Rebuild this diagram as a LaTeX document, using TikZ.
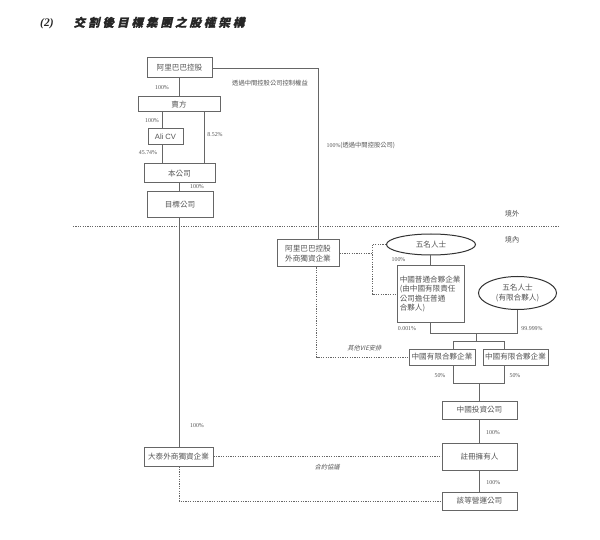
\documentclass[tikz,border=0pt]{standalone}
\usepackage{fontspec}
\setmainfont{Liberation Serif}
\newfontfamily\cjk{Noto Sans CJK TC}
\newfontfamily\cjktitle[FakeSlant=0.22,FakeBold=1.2,LetterSpace=26]{Noto Sans CJK TC}
\usetikzlibrary{shapes.geometric}
\definecolor{txt}{HTML}{555555}
\definecolor{ln}{HTML}{666666}
\tikzset{
  bx/.style={draw=ln,line width=1pt,inner sep=0pt,text=txt,font=\cjk\fontsize{7.6}{9.4}\selectfont,align=center},
  el/.style={ellipse,draw=black!80,line width=1pt,inner sep=0pt,text=txt,font=\cjk\fontsize{7.6}{9.4}\selectfont,align=center},
  cn/.style={draw=ln,line width=0.9pt},
  dt/.style={draw=ln,line width=0.9pt,dash pattern=on 1.2pt off 1.2pt},
  pct/.style={text=txt,font=\fontsize{5.9}{7}\selectfont,inner sep=0pt},
  lbl/.style={text=txt,font=\cjk\fontsize{6.3}{7}\selectfont,inner sep=0pt},
  ilbl/.style={text=txt,font=\cjk\fontsize{6.2}{7}\selectfont,inner sep=0pt,xslant=0.25}
}
\begin{document}
\begin{tikzpicture}[x=1pt,y=-1pt]
\useasboundingbox (0,0) rectangle (600,540);
\fill[white] (0,0) rectangle (600,540);
% title
\node[anchor=west,inner sep=0pt,text=black!85] (title) at (40,23)
  {\fontsize{11.5}{13}\selectfont\bfseries\itshape (2)\hspace{20pt}{\cjktitle\fontsize{11.5}{13}\selectfont 交割後目標集團之股權架構}};
% boxes
\node[bx,minimum width=65,minimum height=20] (alih) at (179.5,68) {阿里巴巴控股};
\node[bx,minimum width=82,minimum height=15] (seller) at (179,104.5) {賣方};
\node[bx,minimum width=35,minimum height=16,font=\fontsize{7.6}{9}\selectfont] (alicv) at (165.5,137) {\fontspec{Liberation Sans}Ali CV};
\node[bx,minimum width=71,minimum height=19] (company) at (179.5,173.5) {本公司};
\node[bx,minimum width=66,minimum height=26] (target) at (180,205) {目標公司};
\node[bx,minimum width=62,minimum height=27] (wfoe1) at (308,253.5) {阿里巴巴控股\\外商獨資企業};
\node[el,minimum width=89,minimum height=21] (five1) at (431,244.5) {五名人士};
\node[bx,minimum width=67,minimum height=56,align=left,text width=61.5] (gp) at (430.5,294) {中國普通合夥企業\\(由中國有限責任\\公司擔任普通\\合夥人)};
\node[el,minimum width=78,minimum height=33] (five2) at (517.5,293) {五名人士\\(有限合夥人)};
\node[bx,minimum width=66,minimum height=16] (lp1) at (442,357) {中國有限合夥企業};
\node[bx,minimum width=65,minimum height=16] (lp2) at (515.5,357) {中國有限合夥企業};
\node[bx,minimum width=75,minimum height=18] (cninv) at (479.5,410) {中國投資公司};
\node[bx,minimum width=69,minimum height=19] (wfoe2) at (178.5,456.5) {大泰外商獨資企業};
\node[bx,minimum width=75,minimum height=27] (owner) at (479.5,456.5) {註冊擁有人};
\node[bx,minimum width=75,minimum height=18] (opco) at (479.5,501) {該等營運公司};
% helper coordinates
\coordinate (xa) at (162,0);
\coordinate (xb) at (204,0);
\coordinate (xc) at (318.5,0);
\coordinate (xd) at (316.7,0);
\coordinate (xe) at (372,0);
\coordinate (xf) at (453.3,0);
\coordinate (xg) at (504,0);
\coordinate (xi) at (179,0);
\coordinate (j1) at (430.7,333.3);
\coordinate (j2) at (517.5,333.3);
\coordinate (j3) at (476.7,341.7);
\coordinate (j4) at (479.3,383.3);
% ownership lines
\draw[cn] (alih.south -| xi) -- (seller.north -| xi);
\draw[cn] (seller.south -| xa) -- (alicv.north -| xa);
\draw[cn] (alicv.south -| xa) -- (company.north -| xa);
\draw[cn] (seller.south -| xb) -- (company.north -| xb);
\draw[cn] (company.south -| xi) -- (target.north -| xi);
\draw[cn] (target.south -| xi) -- (wfoe2.north -| xi);
\draw[cn] (alih.east) -- (alih.east -| xc) -- (wfoe1.north -| xc);
\draw[cn] (five1.south -| j1) -- (gp.north -| j1);
\draw[cn] (gp.south -| j1) -- (j1) -- (j2) -- (five2.south -| j2);
\draw[cn] (j1 -| j3) -- (j3);
\draw[cn] (lp1.north -| xf) -- (j3 -| xf) -- (j3 -| xg) -- (lp2.north -| xg);
\draw[cn] (lp1.south -| xf) -- (j4 -| xf) -- (j4 -| xg) -- (lp2.south -| xg);
\draw[cn] (j4) -- (cninv.north -| j4);
\draw[cn] (cninv.south -| j4) -- (owner.north -| j4);
\draw[cn] (owner.south -| j4) -- (opco.north -| j4);
% dotted lines
\coordinate (bl) at (73,226.7);
\coordinate (br) at (560,226.7);
\draw[dt] (bl) -- (br);
\draw[dt] (wfoe1.east) -- (wfoe1.east -| xe);
\draw[dt] (five1.west) -- (five1.west -| xe) -- (xe |- gp.west) -- (gp.west);
\draw[dt] (wfoe1.south -| xd) -- (xd |- lp1.west) -- (lp1.west);
\draw[dt] (wfoe2.east) -- (owner.west);
\draw[dt] (wfoe2.south -| xi) -- (xi |- opco.west) -- (opco.west);
% percentage labels
\node[pct] (p1) at (162,88) {100\%};
\node[pct] (p2) at (152,121) {100\%};
\node[pct] (p3) at (148,153) {45.74\%};
\node[pct] (p4) at (215,135) {8.52\%};
\node[pct] (p5) at (197,186.5) {100\%};
\node[pct] (p6) at (197,425.5) {100\%};
\node[pct] (p7) at (398.5,259.5) {100\%};
\node[pct] (p8) at (407,328.5) {0.001\%};
\node[pct] (p9) at (532,328.5) {99.999\%};
\node[pct] (p10) at (440,376) {50\%};
\node[pct] (p11) at (515,376) {50\%};
\node[pct] (p12) at (493,432.5) {100\%};
\node[pct] (p13) at (493.3,482.3) {100\%};
\node[lbl] (t1) at (270,83.3) {透過中間控股公司控制權益};
\node[anchor=west,inner sep=0pt,text=txt] (t2) at (326.5,145) {{\fontsize{5.9}{7}\selectfont 100\%}{\cjk\fontsize{6.3}{7}\selectfont (透過中間控股公司)}};
\node[lbl,font=\cjk\fontsize{7.2}{8}\selectfont] (t3) at (512,214) {境外};
\node[lbl,font=\cjk\fontsize{7.2}{8}\selectfont] (t4) at (512,240) {境內};
\node[ilbl] (t5) at (365,348.3) {其他VIE安排};
\node[ilbl] (t6) at (327.7,466.7) {合約協議};
\end{tikzpicture}
\end{document}
